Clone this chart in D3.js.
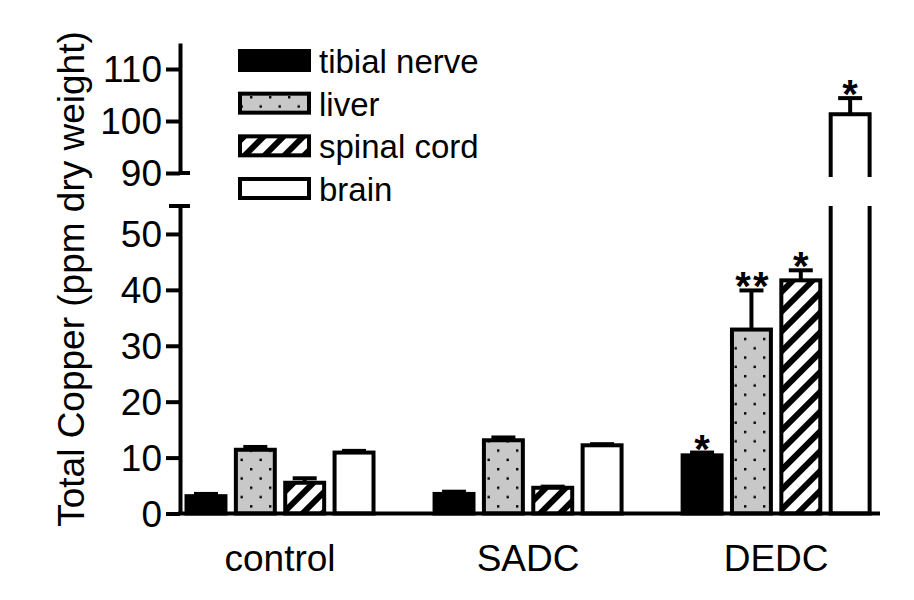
<!DOCTYPE html>
<html>
<head>
<meta charset="utf-8">
<script src="https://cdn.jsdelivr.net/npm/d3@7"></script>
<style>
  body { margin: 0; background: #fff; }
  svg { display: block; }
  text { font-family: "Liberation Sans", Arial, sans-serif; fill: #000; }
</style>
</head>
<body>
<svg id="chart" width="914" height="600"></svg>
<script>
// ---- data ----
const groups = ["control", "SADC", "DEDC"];
const tissues = ["tibial nerve", "liver", "spinal cord", "brain"];

// mean total copper, ppm dry weight, in group order
const tibialNerve = [3.1, 3.5, 10.4];
const liver = [11.4, 13.1, 32.9];
const spinalCord = [5.5, 4.6, 41.7];
const brain = [10.9, 12.2, 101.3];

// upper error bars
const tibialNerveErr = [0.4, 0.4, 0.5];
const liverErr = [0.5, 0.5, 7.0];
const spinalCordErr = [0.8, 0.2, 1.8];
const brainErr = [0.3, 0.2, 3.1];

// significance marks
const tibialNerveSig = ["", "", "*"];
const liverSig = ["", "", "**"];
const spinalCordSig = ["", "", "*"];
const brainSig = ["", "", "*"];

const lowerTicks = [0, 10, 20, 30, 40, 50];
const upperTicks = [90, 100, 110];

const series = [
  { key: tissues[0], values: tibialNerve, err: tibialNerveErr, sig: tibialNerveSig, fill: "#000" },
  { key: tissues[1], values: liver, err: liverErr, sig: liverSig, fill: "url(#dots)" },
  { key: tissues[2], values: spinalCord, err: spinalCordErr, sig: spinalCordSig, fill: "url(#stripes)" },
  { key: tissues[3], values: brain, err: brainErr, sig: brainSig, fill: "#fff" }
];

const svg = d3.select("#chart");
const axisX = 180;
const sw = 4; // stroke width used everywhere

// ---- scales (broken y axis) ----
const yLow = d3.scaleLinear().domain([0, 55]).range([513.5, 206]);
const yHigh = d3.scaleLinear().domain([90, 115]).range([173, 43]);
const lowMax = yLow.domain()[1];

const x0 = d3.scaleBand().domain(groups).range([axisX, 880])
  .paddingInner(0.23).paddingOuter(0.026).align(0.35);
const x1 = d3.scaleBand().domain(tissues).range([0, x0.bandwidth()]).paddingInner(0.13);

// ---- patterns & clips ----
const defs = svg.append("defs");

const dots = defs.append("pattern").attr("id", "dots")
  .attr("patternUnits", "userSpaceOnUse").attr("width", 19).attr("height", 18.6);
dots.append("rect").attr("width", 19).attr("height", 18.6).attr("fill", "#c8c8c8");
dots.append("rect").attr("x", 3).attr("y", 3).attr("width", 2.4).attr("height", 2.4).attr("fill", "#000");
dots.append("rect").attr("x", 12.5).attr("y", 12.3).attr("width", 2.4).attr("height", 2.4).attr("fill", "#000");

const stripes = defs.append("pattern").attr("id", "stripes")
  .attr("patternUnits", "userSpaceOnUse").attr("width", 14).attr("height", 14)
  .attr("patternTransform", "rotate(45)");
stripes.append("rect").attr("width", 14).attr("height", 14).attr("fill", "#fff");
stripes.append("rect").attr("width", 6).attr("height", 14).attr("fill", "#000");

defs.append("clipPath").attr("id", "clipLow").append("rect")
  .attr("x", 0).attr("y", yLow.range()[1]).attr("width", 914).attr("height", 600);
defs.append("clipPath").attr("id", "clipHigh").append("rect")
  .attr("x", 0).attr("y", 0).attr("width", 914).attr("height", yHigh(90) + 4);

// ---- bars ----
const lowG = svg.append("g").attr("clip-path", "url(#clipLow)");
const highG = svg.append("g").attr("clip-path", "url(#clipHigh)");
const errG = svg.append("g");

series.forEach(s => {
  s.values.forEach((v, i) => {
    const bx = x0(groups[i]) + x1(s.key);
    const bw = x1.bandwidth();

    // lower segment
    const topLow = v > lowMax ? yLow(lowMax) - 10 : yLow(v);
    lowG.append("rect")
      .attr("x", bx + sw / 2)
      .attr("y", topLow)
      .attr("width", bw - sw)
      .attr("height", yLow(0) - topLow)
      .attr("fill", s.fill)
      .attr("stroke", "#000")
      .attr("stroke-width", sw);

    // upper segment
    if (v > yHigh.domain()[0]) {
      highG.append("rect")
        .attr("x", bx + sw / 2)
        .attr("y", yHigh(v))
        .attr("width", bw - sw)
        .attr("height", yHigh(90) + 10 - yHigh(v))
        .attr("fill", s.fill)
        .attr("stroke", "#000")
        .attr("stroke-width", sw);
    }

    // error bar
    const ys = v > lowMax ? yHigh : yLow;
    const cx = bx + bw / 2;
    const yTop = ys(v + s.err[i]);
    errG.append("line")
      .attr("x1", cx).attr("x2", cx)
      .attr("y1", ys(v)).attr("y2", yTop)
      .attr("stroke", "#000").attr("stroke-width", sw);
    errG.append("line")
      .attr("x1", cx - 12).attr("x2", cx + 12)
      .attr("y1", yTop).attr("y2", yTop)
      .attr("stroke", "#000").attr("stroke-width", sw);

    if (s.sig[i]) {
      errG.append("text")
        .attr("x", cx + (s.sig[i].length > 1 ? 1.5 : 0))
        .attr("y", yTop + 10)
        .attr("text-anchor", "middle")
        .style("font-size", "40px")
        .style("font-weight", "bold")
        .style("letter-spacing", s.sig[i].length > 1 ? "2px" : "0px")
        .text(s.sig[i]);
    }
  });
});

// ---- axes ----
const styleAxis = g => {
  g.select(".domain").attr("stroke", "#000").attr("stroke-width", sw);
  g.selectAll(".tick line").attr("stroke", "#000").attr("stroke-width", sw);
  g.selectAll(".tick text").style("font-size", "37px").attr("fill", "#000");
};

svg.append("g")
  .attr("transform", `translate(${axisX},0)`)
  .call(d3.axisLeft(yLow).tickValues(lowerTicks).tickSize(14).tickSizeOuter(0).tickPadding(4))
  .call(styleAxis)
  .call(g => g.selectAll(".tick text").attr("dy", "0.34em"));

svg.append("g")
  .attr("transform", `translate(${axisX},0)`)
  .call(d3.axisLeft(yHigh).tickValues(upperTicks).tickSize(14).tickSizeOuter(0).tickPadding(4))
  .call(styleAxis)
  .call(g => g.selectAll(".tick text").attr("dy", "0.34em"));

// break caps
svg.append("line")
  .attr("x1", axisX).attr("x2", axisX + 10)
  .attr("y1", yHigh(90)).attr("y2", yHigh(90))
  .attr("stroke", "#000").attr("stroke-width", sw);
svg.append("line")
  .attr("x1", axisX - 11).attr("x2", axisX + 10)
  .attr("y1", yLow(lowMax)).attr("y2", yLow(lowMax))
  .attr("stroke", "#000").attr("stroke-width", sw);

// x axis
svg.append("g")
  .attr("transform", `translate(0,${yLow(0)})`)
  .call(d3.axisBottom(x0).tickSize(0).tickSizeOuter(0).tickPadding(31))
  .call(styleAxis)
  .call(g => g.select(".domain").attr("d", `M${axisX - 2},0H880`));

// y axis title
svg.append("text")
  .attr("transform", `translate(84,279) rotate(-90)`)
  .attr("text-anchor", "middle")
  .style("font-size", "37px")
  .text("Total Copper (ppm dry weight)");

// ---- legend ----
const legendY = d3.scalePoint().domain(tissues).range([49, 177]);
const legend = svg.append("g");
series.forEach(s => {
  const y = legendY(s.key);
  legend.append("rect")
    .attr("x", 238 + sw / 2).attr("y", y + sw / 2)
    .attr("width", 73 - sw).attr("height", 23 - sw)
    .attr("fill", s.fill)
    .attr("stroke", "#000").attr("stroke-width", sw);
  legend.append("text")
    .attr("x", 319).attr("y", y + 24)
    .style("font-size", "33px")
    .text(s.key);
});
</script>
</body>
</html>
